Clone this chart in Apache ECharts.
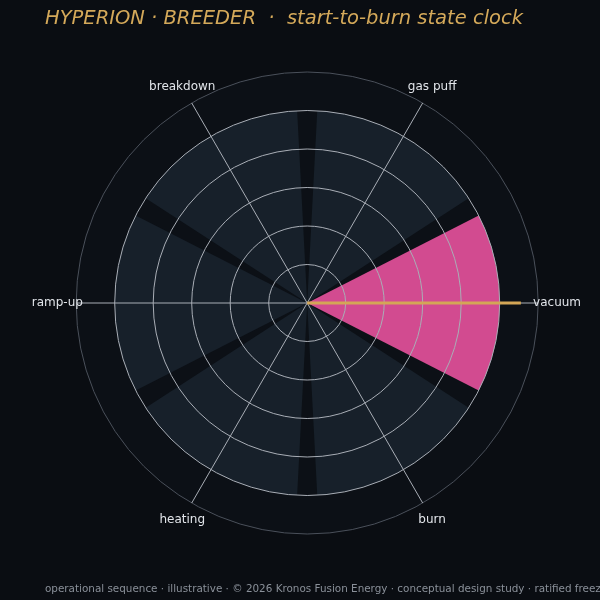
<!DOCTYPE html>
<html>
<head>
<meta charset="utf-8">
<script src="https://cdn.jsdelivr.net/npm/echarts@6/dist/echarts.min.js"></script>
<style>
  html, body { margin: 0; padding: 0; background: #0a0d12; }
  #chart { width: 600px; height: 600px; }
</style>
</head>
<body>
<div id="chart"></div>
<script>
// states of the start-up sequence, counter-clockwise from 3 o'clock
var states = ['vacuum', 'gas puff', 'breakdown', 'ramp-up', 'heating', 'burn'];
var trackValues = [5, 5, 5, 5, 5, 5];
var activeState = 'vacuum';
var handLength = 5.55;
var labelRadius = 6.49;
var radiusTicks = [0, 1, 2, 3, 4, 5, 6];
var spokeAngles = [0, 60, 120, 180, 240, 300, 360];

var center = ['51.2%', '50.5%'];
var radius = '77%';
var font = 'DejaVu Sans';

var chart = echarts.init(document.getElementById('chart'));

var barData = [];
for (var i = 0; i < states.length; i++) {
    if (states[i] === activeState) {
        barData.push({ value: trackValues[i], itemStyle: { color: '#d24b90' } });
    } else {
        barData.push(trackValues[i]);
    }
}

var labelData = [];
for (var k = 0; k < states.length; k++) {
    labelData.push([labelRadius, states[k]]);
}

// outer edge of the dial is dimmer than the inner rings
var ringColors = [];
for (var j = 0; j < radiusTicks.length; j++) {
    ringColors.push(j === radiusTicks.length - 1 ? '#4a505a' : '#a9aeb6');
}

var option = {
    backgroundColor: '#0a0d12',
    animation: false,
    textStyle: { fontFamily: font },
    title: {
        text: 'HYPERION · BREEDER  ·  start-to-burn state clock',
        left: 40,
        top: 4,
        textStyle: {
            color: '#d4a95a',
            fontFamily: font,
            fontSize: 19.5,
            fontStyle: 'italic',
            fontWeight: 'normal'
        }
    },
    graphic: [{
        type: 'text',
        left: 45,
        top: 584,
        silent: true,
        style: {
            text: 'operational sequence · illustrative · © 2026 Kronos Fusion Energy · conceptual design study · ratified freeze',
            fill: '#8a9099',
            fontFamily: font,
            fontSize: 10.4
        }
    }],
    polar: [
        { center: center, radius: radius },
        { center: center, radius: radius }
    ],
    angleAxis: [{
        // states, one band each, centred on the spokes
        polarIndex: 0,
        type: 'category',
        data: states,
        startAngle: 330,
        clockwise: false,
        axisLine: { show: false },
        axisTick: { show: false },
        axisLabel: { show: false },
        splitLine: { show: false }
    }, {
        // spokes through the state labels
        polarIndex: 1,
        type: 'value',
        min: spokeAngles[0],
        max: spokeAngles[spokeAngles.length - 1],
        interval: 60,
        startAngle: 0,
        clockwise: false,
        z: 5,
        axisLine: { show: false },
        axisTick: { show: false },
        axisLabel: { show: false },
        splitLine: { show: true, lineStyle: { color: '#a9aeb6', width: 1 } }
    }],
    radiusAxis: [{
        polarIndex: 0,
        type: 'value',
        min: radiusTicks[0],
        max: radiusTicks[radiusTicks.length - 1],
        interval: 1,
        axisLine: { show: false },
        axisTick: { show: false },
        axisLabel: { show: false },
        splitLine: { show: false }
    }, {
        polarIndex: 1,
        type: 'value',
        min: radiusTicks[0],
        max: radiusTicks[radiusTicks.length - 1],
        interval: 1,
        z: 5,
        axisLine: { show: false },
        axisTick: { show: false },
        axisLabel: { show: false },
        splitLine: { show: true, lineStyle: { color: ringColors, width: 1 } }
    }],
    series: [{
        // dial face
        type: 'pie',
        center: center,
        radius: [0, radius],
        silent: true,
        z: 0,
        label: { show: false },
        labelLine: { show: false },
        itemStyle: { color: '#0c1016' },
        data: [1]
    }, {
        name: 'states',
        type: 'bar',
        coordinateSystem: 'polar',
        polarIndex: 0,
        barCategoryGap: '10%',
        z: 2,
        itemStyle: { color: '#17202a' },
        data: barData
    }, {
        name: 'hand',
        type: 'line',
        coordinateSystem: 'polar',
        polarIndex: 0,
        symbol: 'none',
        z: 10,
        lineStyle: { color: '#d4a656', width: 3 },
        data: [[0, activeState], [handLength, activeState]]
    }, {
        name: 'state labels',
        type: 'scatter',
        coordinateSystem: 'polar',
        polarIndex: 0,
        clip: false,
        silent: true,
        symbolSize: 0,
        z: 10,
        itemStyle: { opacity: 1 },
        label: {
            show: true,
            position: 'inside',
            color: '#e2e5ea',
            opacity: 1,
            fontFamily: font,
            fontSize: 12,
            formatter: function (p) { return p.value[1]; }
        },
        data: labelData
    }]
};

chart.setOption(option);
</script>
</body>
</html>
